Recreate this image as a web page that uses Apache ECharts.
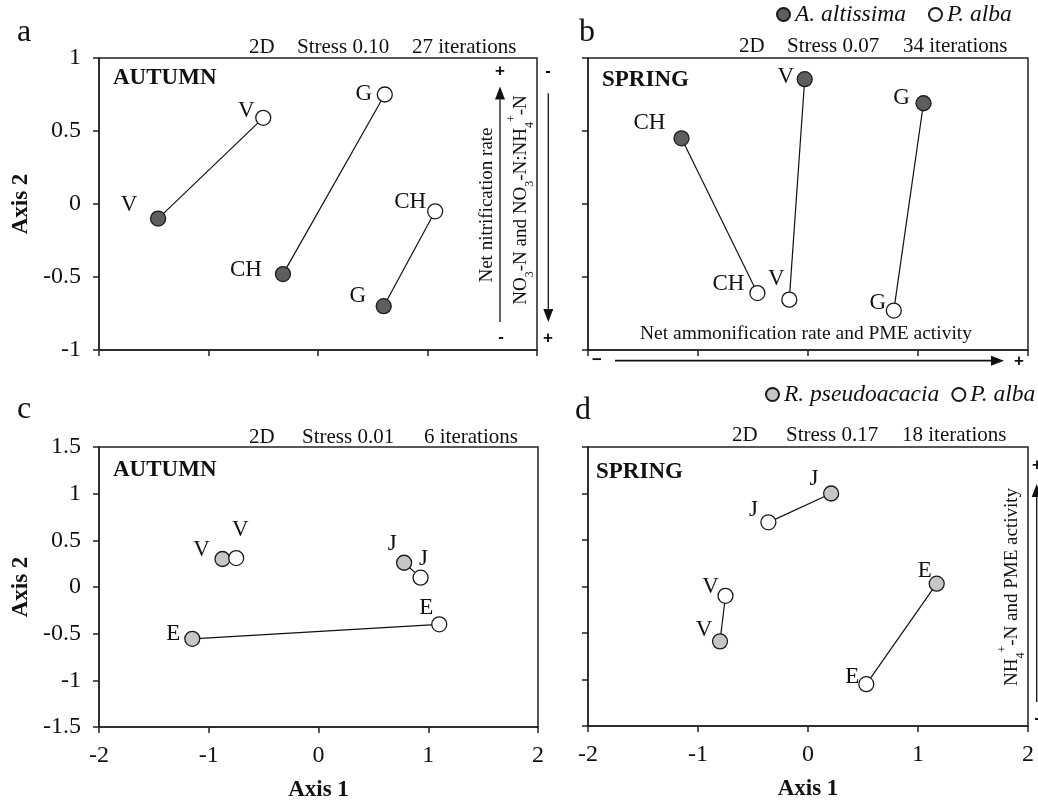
<!DOCTYPE html>
<html>
<head>
<meta charset="utf-8">
<script src="https://cdn.jsdelivr.net/npm/echarts@6/dist/echarts.min.js"></script>
<style>
  html, body { margin: 0; padding: 0; background: #fff; }
  #chart { width: 1038px; height: 803px; }
</style>
</head>
<body>
<div id="chart"></div>
<script>
// a: autumn, A. altissima (filled) vs P. alba (open)
const aFilledNames = ['V', 'CH', 'G']
const aFilled = [[-1.46, -0.10], [-0.32, -0.48], [0.60, -0.70]]
const aOpenNames = ['V', 'G', 'CH']
const aOpen = [[-0.50, 0.59], [0.61, 0.75], [1.07, -0.05]]

// b: spring, A. altissima vs P. alba
const bFilledNames = ['CH', 'V', 'G']
const bFilled = [[-1.15, 0.45], [-0.03, 0.855], [1.05, 0.69]]
const bOpenNames = ['CH', 'V', 'G']
const bOpen = [[-0.46, -0.61], [-0.17, -0.655], [0.78, -0.73]]

// c: autumn, R. pseudoacacia vs P. alba
const cFilledNames = ['V', 'J', 'E']
const cFilled = [[-0.875, 0.30], [0.78, 0.26], [-1.15, -0.555]]
const cOpenNames = ['V', 'J', 'E']
const cOpen = [[-0.75, 0.31], [0.93, 0.10], [1.10, -0.40]]

// d: spring, R. pseudoacacia vs P. alba
const dFilledNames = ['J', 'V', 'E']
const dFilled = [[0.21, 1.00], [-0.80, -0.59], [1.17, 0.03]]
const dOpenNames = ['J', 'V', 'E']
const dOpen = [[-0.36, 0.69], [-0.75, -0.10], [0.53, -1.05]]

const stressA = ['2D', 'Stress 0.10', '27 iterations']
const stressB = ['2D', 'Stress 0.07', '34 iterations']
const stressC = ['2D', 'Stress 0.01', '6 iterations']
const stressD = ['2D', 'Stress 0.17', '18 iterations']

const FONT = 'Liberation Serif, Times New Roman, serif'
const INK = '#111'

// where each point label sits relative to its marker (px)
const aFilledOff = [[-29, -14], [-37, -4], [-26, -10]]
const aOpenOff = [[-17, -7], [-21, -1], [-25, -9]]
const bFilledOff = [[-32, -15], [-19, -2], [-22, -5]]
const bOpenOff = [[-29, -9], [-13, -21], [-16, -8]]
const cFilledOff = [[-21, -9], [-12, -19], [-19, -5]]
const cOpenOff = [[4, -28], [3, -19], [-13, -16]]
const dFilledOff = [[-17, -15], [-16, -11], [-12, -13]]
const dOpenOff = [[-15, -12], [-15, -9], [-14, -7]]

const panels = [
  { grid: { left: 99, top: 58, width: 438, height: 292 }, yMin: -1, yMax: 1, xLabels: false, yLabels: true },
  { grid: { left: 588, top: 58, width: 440, height: 292 }, yMin: -1, yMax: 1, xLabels: false, yLabels: false },
  { grid: { left: 99, top: 447, width: 439, height: 280 }, yMin: -1.5, yMax: 1.5, xLabels: true, yLabels: true },
  { grid: { left: 588, top: 447, width: 440, height: 279 }, yMin: -1.5, yMax: 1.5, xLabels: true, yLabels: false }
]

const axisLine = { show: true, onZero: false, lineStyle: { color: '#222', width: 1.5 } }
const axisTick = { show: true, inside: false, length: 6, lineStyle: { color: '#222', width: 1.5 } }

function pointSeries (idx, name, pts, names, offs, color) {
  return {
    type: 'scatter',
    name,
    xAxisIndex: idx,
    yAxisIndex: idx,
    symbol: 'circle',
    symbolSize: 15,
    z: 4,
    itemStyle: { color, borderColor: '#1a1a1a', borderWidth: 1.3, opacity: 1 },
    emphasis: { disabled: true },
    label: {
      show: true,
      position: 'inside',
      formatter: '{b}',
      color: INK,
      fontFamily: FONT,
      fontSize: 23
    },
    data: pts.map((p, i) => ({ name: names[i], value: p, label: { offset: offs[i] } }))
  }
}

function linkSeries (idx, from, to) {
  return from.map((p, i) => ({
    type: 'line',
    xAxisIndex: idx,
    yAxisIndex: idx,
    data: [p, to[i]],
    symbol: 'none',
    silent: true,
    z: 2,
    lineStyle: { color: INK, width: 1.2 }
  }))
}

const DARK = '#5e5e5e'
const LIGHT = '#c6c6c6'
const OPEN = '#ffffff'

const series = [
  ...linkSeries(0, aFilled, aOpen),
  ...linkSeries(1, bFilled, bOpen),
  ...linkSeries(2, cFilled, cOpen),
  ...linkSeries(3, dFilled, dOpen),
  pointSeries(0, 'A. altissima', aFilled, aFilledNames, aFilledOff, DARK),
  pointSeries(0, 'P. alba', aOpen, aOpenNames, aOpenOff, OPEN),
  pointSeries(1, 'A. altissima', bFilled, bFilledNames, bFilledOff, DARK),
  pointSeries(1, 'P. alba', bOpen, bOpenNames, bOpenOff, OPEN),
  pointSeries(2, 'R. pseudoacacia', cFilled, cFilledNames, cFilledOff, LIGHT),
  pointSeries(2, 'P. alba', cOpen, cOpenNames, cOpenOff, OPEN),
  pointSeries(3, 'R. pseudoacacia', dFilled, dFilledNames, dFilledOff, LIGHT),
  pointSeries(3, 'P. alba', dOpen, dOpenNames, dOpenOff, OPEN)
]

function text (x, y, str, opts = {}) {
  return {
    type: 'text',
    x,
    y,
    rotation: opts.rotation || 0,
    silent: true,
    style: {
      text: str,
      fill: INK,
      font: opts.font || ('21px ' + FONT),
      align: opts.align || 'left',
      verticalAlign: 'middle',
      rich: opts.rich
    }
  }
}

function arrow (x1, y1, x2, y2, w = 1.3) {
  const len = Math.hypot(x2 - x1, y2 - y1)
  const ux = (x2 - x1) / len
  const uy = (y2 - y1) / len
  const hl = 13
  const hw = 5
  const bx = x2 - ux * hl
  const by = y2 - uy * hl
  return [
    { type: 'line', silent: true, shape: { x1, y1, x2: bx, y2: by }, style: { stroke: INK, lineWidth: w } },
    {
      type: 'polygon',
      silent: true,
      shape: { points: [[x2, y2], [bx - uy * hw, by + ux * hw], [bx + uy * hw, by - ux * hw]] },
      style: { fill: INK }
    }
  ]
}

const signFont = 'bold 17px Liberation Sans, Arial, sans-serif'
function sign (x, y, s) {
  return text(x, y, s, { font: signFont, align: 'center' })
}

const subRich = {
  t: { fontSize: 19, fontFamily: FONT, fill: INK, lineHeight: 30 },
  s: { fontSize: 12, fontFamily: FONT, fill: INK, lineHeight: 30, verticalAlign: 'bottom' },
  p: { fontSize: 12, fontFamily: FONT, fill: INK, lineHeight: 30, verticalAlign: 'top' }
}

function stress (x, y, parts) {
  return parts.map((p, i) => text(x[i], y, p))
}

const graphic = [
  text(24, 33, 'a', { font: '32px ' + FONT, align: 'center' }),
  text(587, 33, 'b', { font: '32px ' + FONT, align: 'center' }),
  text(24, 410, 'c', { font: '32px ' + FONT, align: 'center' }),
  text(583, 411, 'd', { font: '32px ' + FONT, align: 'center' }),
  ...stress([249, 297, 412], 47, stressA),
  ...stress([739, 787, 903], 46, stressB),
  ...stress([249, 302, 424], 437, stressC),
  ...stress([732, 786, 902], 435, stressD),
  text(113, 78, 'AUTUMN', { font: 'bold 23px ' + FONT }),
  text(602, 80, 'SPRING', { font: 'bold 23px ' + FONT }),
  text(113, 470, 'AUTUMN', { font: 'bold 23px ' + FONT }),
  text(596, 472, 'SPRING', { font: 'bold 23px ' + FONT }),
  // gradients between a and b
  ...arrow(500, 322, 500, 86.5),
  ...arrow(548.3, 93.3, 548.3, 322),
  sign(500, 71, '+'), sign(501, 337.5, '-'),
  sign(548, 71, '-'), sign(548, 338.5, '+'),
  text(487.5, 205, 'Net nitrification rate', { font: '19px ' + FONT, align: 'center', rotation: Math.PI / 2 }),
  text(521, 200, '{t|NO}{s|3}{t|-N and NO}{s|3}{t|-N:NH}{s|4}{p|+}{t|-N}', { align: 'center', rotation: Math.PI / 2, rich: subRich }),
  // panel b horizontal gradient
  ...arrow(615, 360.7, 1004, 360.7, 1.8),
  sign(597, 360, '\u2212'), sign(1019, 361, '+'),
  text(806, 334, 'Net ammonification rate and PME activity', { font: '19.5px ' + FONT, align: 'center' }),
  // panel d gradient
  ...arrow(1036.7, 702, 1036.7, 484),
  sign(1037, 465, '+'), sign(1037, 718, '-'),
  text(1012, 587, '{t|NH}{s|4}{p|+}{t|-N and PME activity}', { align: 'center', rotation: Math.PI / 2, rich: subRich })
]

const legendText = { fontFamily: FONT, fontSize: 23.5, fontStyle: 'italic', color: INK }

const option = {
  backgroundColor: '#fff',
  animation: false,
  grid: panels.map((p) => ({
    ...p.grid,
    show: true,
    borderColor: '#222',
    borderWidth: 1.5,
    backgroundColor: 'transparent',
    outerBoundsMode: 'none',
    containLabel: false
  })),
  xAxis: panels.map((p, i) => ({
    type: 'value',
    gridIndex: i,
    min: -2,
    max: 2,
    interval: 1,
    axisLine,
    axisTick,
    splitLine: { show: false },
    axisLabel: { show: p.xLabels, color: INK, fontFamily: FONT, fontSize: 24, margin: 17, showMinLabel: true, showMaxLabel: true },
    name: p.xLabels ? 'Axis 1' : '',
    nameLocation: 'middle',
    nameGap: 52,
    nameTextStyle: { color: INK, fontFamily: FONT, fontSize: 23, fontWeight: 'bold' }
  })),
  yAxis: panels.map((p, i) => ({
    type: 'value',
    gridIndex: i,
    min: p.yMin,
    max: p.yMax,
    interval: 0.5,
    axisLine,
    axisTick,
    splitLine: { show: false },
    axisLabel: { show: p.yLabels, color: INK, fontFamily: FONT, fontSize: 24, margin: 18, showMinLabel: true, showMaxLabel: true },
    name: p.yLabels ? 'Axis 2' : '',
    nameLocation: 'middle',
    nameRotate: 90,
    nameGap: 66,
    nameTextStyle: { color: INK, fontFamily: FONT, fontSize: 23, fontWeight: 'bold' }
  })),
  legend: [
    {
      data: ['A. altissima', 'P. alba'],
      left: 776,
      top: 3,
      width: 300,
      orient: 'horizontal',
      icon: 'circle',
      itemWidth: 13,
      itemHeight: 13,
      itemGap: 22,
      padding: 0,
      selectedMode: false,
      textStyle: legendText
    },
    {
      data: ['R. pseudoacacia', 'P. alba'],
      left: 765,
      top: 383,
      width: 320,
      orient: 'horizontal',
      icon: 'circle',
      itemWidth: 13,
      itemHeight: 13,
      itemGap: 12,
      padding: 0,
      selectedMode: false,
      textStyle: legendText
    }
  ],
  graphic,
  series
}

const chart = echarts.init(document.getElementById('chart'), null, { renderer: 'canvas' })
chart.setOption(option)
</script>
</body>
</html>
